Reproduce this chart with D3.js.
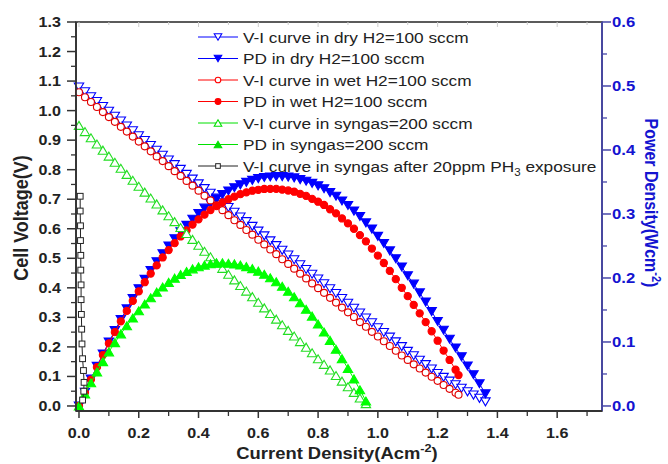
<!DOCTYPE html>
<html><head><meta charset="utf-8">
<script src="https://cdn.jsdelivr.net/npm/d3@7"></script>
<style>body{margin:0;background:#fff}svg{display:block}</style>
</head><body>
<svg id="c" width="668" height="464"></svg>
<script>
// ---- data ----
const currentDry = [0,0.02,0.04,0.06,0.08,0.10,0.12,0.14,0.16,0.18,0.20,0.22,0.24,0.26,0.28,0.30,0.32,0.34,0.36,0.38,0.40,0.42,0.44,0.46,0.48,0.50,0.52,0.54,0.56,0.58,0.60,0.62,0.64,0.66,0.68,0.70,0.72,0.74,0.76,0.78,0.80,0.82,0.84,0.86,0.88,0.90,0.92,0.94,0.96,0.98,1.00,1.02,1.04,1.06,1.08,1.10,1.12,1.14,1.16,1.18,1.20,1.22,1.24,1.26,1.28,1.30,1.32,1.34,1.36];
const voltageDry = [1.080,1.064,1.047,1.031,1.014,0.998,0.981,0.965,0.948,0.932,0.915,0.899,0.882,0.866,0.849,0.833,0.817,0.801,0.784,0.768,0.752,0.736,0.720,0.704,0.688,0.672,0.656,0.640,0.624,0.608,0.592,0.576,0.559,0.543,0.527,0.511,0.495,0.478,0.462,0.446,0.430,0.414,0.397,0.381,0.364,0.348,0.331,0.315,0.298,0.282,0.265,0.249,0.233,0.217,0.201,0.185,0.170,0.155,0.140,0.125,0.110,0.097,0.084,0.072,0.060,0.048,0.037,0.026,0.014];
const powerDry = [0,0.0213,0.0419,0.0619,0.0811,0.0998,0.1177,0.1351,0.1517,0.1678,0.1830,0.1978,0.2117,0.2252,0.2377,0.2499,0.2614,0.2723,0.2822,0.2918,0.3008,0.3091,0.3168,0.3238,0.3302,0.3360,0.3411,0.3456,0.3494,0.3526,0.3552,0.3571,0.3578,0.3584,0.3584,0.3577,0.3564,0.3537,0.3511,0.3479,0.3440,0.3395,0.3335,0.3277,0.3203,0.3132,0.3045,0.2961,0.2861,0.2764,0.2650,0.2540,0.2423,0.2300,0.2171,0.2035,0.1904,0.1767,0.1624,0.1475,0.1320,0.1183,0.1042,0.0907,0.0768,0.0624,0.0488,0.0348,0.0190];

const currentWet = [0,0.02,0.04,0.06,0.08,0.10,0.12,0.14,0.16,0.18,0.20,0.22,0.24,0.26,0.28,0.30,0.32,0.34,0.36,0.38,0.40,0.42,0.44,0.46,0.48,0.50,0.52,0.54,0.56,0.58,0.60,0.62,0.64,0.66,0.68,0.70,0.72,0.74,0.76,0.78,0.80,0.82,0.84,0.86,0.88,0.90,0.92,0.94,0.96,0.98,1.00,1.02,1.04,1.06,1.08,1.10,1.12,1.14,1.16,1.18,1.20,1.22,1.24,1.26,1.27];
const voltageWet = [1.062,1.045,1.029,1.012,0.995,0.978,0.962,0.945,0.929,0.912,0.895,0.879,0.862,0.845,0.829,0.812,0.795,0.779,0.762,0.746,0.729,0.712,0.696,0.679,0.663,0.646,0.629,0.613,0.596,0.580,0.563,0.547,0.530,0.514,0.497,0.481,0.465,0.448,0.432,0.415,0.399,0.383,0.366,0.350,0.333,0.317,0.301,0.284,0.268,0.251,0.235,0.219,0.203,0.187,0.171,0.156,0.141,0.127,0.113,0.099,0.085,0.071,0.058,0.045,0.038];
const powerWet = [0,0.0209,0.0412,0.0607,0.0796,0.0978,0.1154,0.1323,0.1486,0.1642,0.1790,0.1934,0.2069,0.2197,0.2321,0.2436,0.2544,0.2649,0.2743,0.2835,0.2916,0.2990,0.3062,0.3123,0.3182,0.3230,0.3271,0.3310,0.3338,0.3364,0.3378,0.3391,0.3392,0.3392,0.3380,0.3367,0.3348,0.3315,0.3283,0.3237,0.3192,0.3141,0.3074,0.3010,0.2930,0.2853,0.2769,0.2670,0.2573,0.2460,0.2350,0.2234,0.2111,0.1982,0.1847,0.1716,0.1579,0.1448,0.1311,0.1168,0.1020,0.0866,0.0719,0.0567,0.0483];

const currentSyn = [0,0.02,0.04,0.06,0.08,0.10,0.12,0.14,0.16,0.18,0.20,0.22,0.24,0.26,0.28,0.30,0.32,0.34,0.36,0.38,0.40,0.42,0.44,0.46,0.48,0.50,0.52,0.54,0.56,0.58,0.60,0.62,0.64,0.66,0.68,0.70,0.72,0.74,0.76,0.78,0.80,0.82,0.84,0.86,0.88,0.90,0.92,0.94,0.96];
const voltageSyn = [0.950,0.929,0.908,0.887,0.866,0.846,0.825,0.805,0.784,0.764,0.744,0.724,0.704,0.684,0.664,0.644,0.624,0.604,0.584,0.564,0.544,0.524,0.505,0.485,0.466,0.446,0.427,0.408,0.389,0.370,0.351,0.332,0.313,0.294,0.275,0.256,0.237,0.218,0.199,0.180,0.160,0.141,0.122,0.103,0.084,0.065,0.046,0.027,0.008];
const powerSyn = [0,0.0186,0.0363,0.0532,0.0693,0.0846,0.0990,0.1127,0.1254,0.1375,0.1488,0.1593,0.1690,0.1778,0.1859,0.1932,0.1997,0.2054,0.2102,0.2143,0.2176,0.2201,0.2222,0.2231,0.2237,0.2230,0.2220,0.2203,0.2178,0.2146,0.2106,0.2058,0.2003,0.1940,0.1870,0.1792,0.1706,0.1613,0.1512,0.1404,0.1280,0.1156,0.1025,0.0886,0.0739,0.0585,0.0423,0.0254,0.0077];

const currentPH3 = [0.004,0.004,0.005,0.005,0.006,0.006,0.007,0.007,0.008,0.009,0.010,0.012,0.015,0.017,0.016,0.012];
const voltagePH3 = [0.71,0.66,0.61,0.56,0.51,0.46,0.41,0.36,0.31,0.26,0.21,0.16,0.12,0.08,0.05,0.02];

const leftTicks = [0.0,0.1,0.2,0.3,0.4,0.5,0.6,0.7,0.8,0.9,1.0,1.1,1.2,1.3];
const rightTicks = [0.0,0.1,0.2,0.3,0.4,0.5,0.6];
const bottomTicks = [0.0,0.2,0.4,0.6,0.8,1.0,1.2,1.4,1.6];

const legendLabels = [
  "V-I curve in dry H2=100 sccm",
  "PD in dry H2=100 sccm",
  "V-I curve in wet H2=100 sccm",
  "PD in wet H2=100 sccm",
  "V-I curve in syngas=200 sccm",
  "PD in syngas=200 sccm",
  "V-I curve in syngas after 20ppm PH"
];

// ---- layout ----
const L = 76, R = 602, T = 22, B = 411;
const SX = 1.15; // horizontal stretch of the reference's lettering
const svg = d3.select("#c");
const x = d3.scaleLinear().domain([-0.01, 1.75]).range([L, R]);
const yL = d3.scaleLinear().domain([-0.017, 1.3]).range([B, T]);
const yR = d3.scaleLinear().domain([-0.017*0.6/1.3, 0.6]).range([B, T]);

const BLUE = "#0000ff", RED = "#ff0000", GREEN = "#00e000", BLACK = "#222";
const font = "Liberation Sans, Arial, sans-serif";

function txt(g, px, py, extra) {
  return g.append("text").attr("transform", `translate(${px},${py}) scale(${SX},1)` + (extra || ""))
    .attr("font-family", font);
}

function tri(down, s){
  const h = s*1.7;
  return down ? `M${-s},${-h/2}L${s},${-h/2}L0,${h/2}Z` : `M${-s},${h/2}L${s},${h/2}L0,${-h/2}Z`;
}
const series = [
  {I: currentDry, v: voltageDry, y: yL, color: BLUE, shape: "down", fill: false},
  {I: currentDry, v: powerDry, y: yR, color: BLUE, shape: "down", fill: true},
  {I: currentWet, v: voltageWet, y: yL, color: "#e00000", shape: "circle", fill: false},
  {I: currentWet, v: powerWet, y: yR, color: RED, shape: "circle", fill: true},
  {I: currentSyn, v: voltageSyn, y: yL, color: "#22dd22", shape: "up", fill: false},
  {I: currentSyn, v: powerSyn, y: yR, color: "#00ff00", shape: "up", fill: true},
  {I: currentPH3, v: voltagePH3, y: yL, color: BLACK, shape: "square", fill: false}
];

function drawMarker(g, shape, color, fill, px, py, scale){
  scale = scale || 1;
  if (shape === "circle") {
    g.append("circle").attr("cx", px).attr("cy", py).attr("r", (fill?3.6:3.5)*scale)
      .attr("fill", fill ? color : "#fff").attr("stroke", color).attr("stroke-width", 1.1);
  } else if (shape === "square") {
    g.append("rect").attr("x", px-2.9*scale).attr("y", py-2.9*scale).attr("width", 5.8*scale).attr("height", 5.8*scale)
      .attr("fill", "#fff").attr("stroke", color).attr("stroke-width", 1);
  } else {
    g.append("path").attr("transform", `translate(${px},${py})`).attr("d", tri(shape === "down", 4.7*scale))
      .attr("fill", fill ? color : "#fff").attr("stroke", color).attr("stroke-width", 1.1);
  }
}

// frame
svg.append("rect").attr("x", L).attr("y", T).attr("width", R-L).attr("height", B-T)
  .attr("fill", "none").attr("stroke", "#333").attr("stroke-width", 1.6);

// faint inner ticks on top edge
const topG = svg.append("g");
bottomTicks.concat(bottomTicks.map(v => v + 0.1)).forEach((v, i) => {
  topG.append("line").attr("x1", x(v)).attr("x2", x(v)).attr("y1", T).attr("y2", T + (i < bottomTicks.length ? 5 : 3))
    .attr("stroke", "#ccc").attr("stroke-width", 1);
});

// plot series
const plotG = svg.append("g");
series.forEach(s => {
  const pts = s.I.map((c, i) => [x(c), s.y(s.v[i])]);
  plotG.append("path").attr("d", d3.line()(pts)).attr("fill", "none")
    .attr("stroke", s.color).attr("stroke-width", 1);
  const mg = plotG.append("g");
  pts.forEach(p => drawMarker(mg, s.shape, s.color, s.fill, p[0], p[1]));
});

// left axis
const lg = svg.append("g");
lg.append("line").attr("x1", L).attr("x2", L).attr("y1", T).attr("y2", B).attr("stroke", "#333").attr("stroke-width", 1.8);
leftTicks.forEach(v => {
  lg.append("line").attr("x1", L-9).attr("x2", L).attr("y1", yL(v)).attr("y2", yL(v)).attr("stroke", "#333").attr("stroke-width", 1.5);
  txt(lg, 61, yL(v)+5).attr("text-anchor", "end").attr("font-weight", "bold").attr("font-size", 14)
    .attr("fill", "#222").text(d3.format(".1f")(v));
  if (v < 1.25) lg.append("line").attr("x1", L-5).attr("x2", L).attr("y1", yL(v+0.05)).attr("y2", yL(v+0.05)).attr("stroke", "#333").attr("stroke-width", 1.3);
});

// right axis
const rg = svg.append("g");
const RAX = "#4646a8", RLAB = "#1414d0";
rg.append("line").attr("x1", R).attr("x2", R).attr("y1", T).attr("y2", B).attr("stroke", RAX).attr("stroke-width", 1.8);
rightTicks.forEach(v => {
  rg.append("line").attr("x1", R).attr("x2", R+9).attr("y1", yR(v)).attr("y2", yR(v)).attr("stroke", RAX).attr("stroke-width", 1.5);
  txt(rg, 612, yR(v)+5).attr("text-anchor", "start").attr("font-weight", "bold").attr("font-size", 14.5)
    .attr("fill", RLAB).text(d3.format(".1f")(v));
  if (v < 0.55) rg.append("line").attr("x1", R).attr("x2", R+5).attr("y1", yR(v+0.05)).attr("y2", yR(v+0.05)).attr("stroke", RAX).attr("stroke-width", 1.3);
});

// bottom axis
const bg = svg.append("g");
bg.append("line").attr("x1", L).attr("x2", R).attr("y1", B).attr("y2", B).attr("stroke", "#333").attr("stroke-width", 1.8);
bottomTicks.forEach(v => {
  bg.append("line").attr("x1", x(v)).attr("x2", x(v)).attr("y1", B).attr("y2", B+7).attr("stroke", "#333").attr("stroke-width", 1.5);
  txt(bg, x(v), 438).attr("text-anchor", "middle").attr("font-weight", "bold").attr("font-size", 14)
    .attr("fill", "#222").text(d3.format(".1f")(v));
  bg.append("line").attr("x1", x(v+0.1)).attr("x2", x(v+0.1)).attr("y1", B).attr("y2", B+5).attr("stroke", "#333").attr("stroke-width", 1.3);
});

// axis titles
txt(svg, 28, 218, " rotate(-90)").attr("text-anchor", "middle")
  .attr("font-weight", "bold").attr("font-size", 18).attr("fill", "#222").text("Cell Voltage(V)");

const xt = txt(svg, 337, 459).attr("text-anchor", "middle")
  .attr("font-weight", "bold").attr("font-size", 16).attr("fill", "#222");
xt.append("tspan").text("Current Density(Acm");
xt.append("tspan").attr("font-size", 11).attr("dy", -7).text("-2");
xt.append("tspan").attr("dy", 7).text(")");

const rt = txt(svg, 645, 203, " rotate(90)").attr("text-anchor", "middle")
  .attr("font-weight", "bold").attr("font-size", 16).attr("fill", RLAB);
rt.append("tspan").text("Power Density(Wcm");
rt.append("tspan").attr("font-size", 11).attr("dy", -6).text("-2");
rt.append("tspan").attr("dy", 6).text(")");

// legend
const legG = svg.append("g");
const legColors = [BLUE, BLUE, RED, RED, GREEN, GREEN, BLACK];
const legShapes = ["down","down","circle","circle","up","up","square"];
const legFill = [false,true,false,true,false,true,false];
legendLabels.forEach((lab, i) => {
  const ly = 37 + i*21.5;
  legG.append("line").attr("x1", 198).attr("x2", 238).attr("y1", ly).attr("y2", ly).attr("stroke", legColors[i]).attr("stroke-width", 1);
  drawMarker(legG, legShapes[i], legColors[i], legFill[i], 218, ly, 0.8);
  const t = txt(legG, 243, ly+5.5).attr("font-size", 15).attr("fill", "#222").text(lab);
  if (i === 6) {
    t.append("tspan").attr("font-size", 10).attr("dy", 4).text("3");
    t.append("tspan").attr("dy", -4).text(" exposure");
  }
});
</script>
</body></html>
